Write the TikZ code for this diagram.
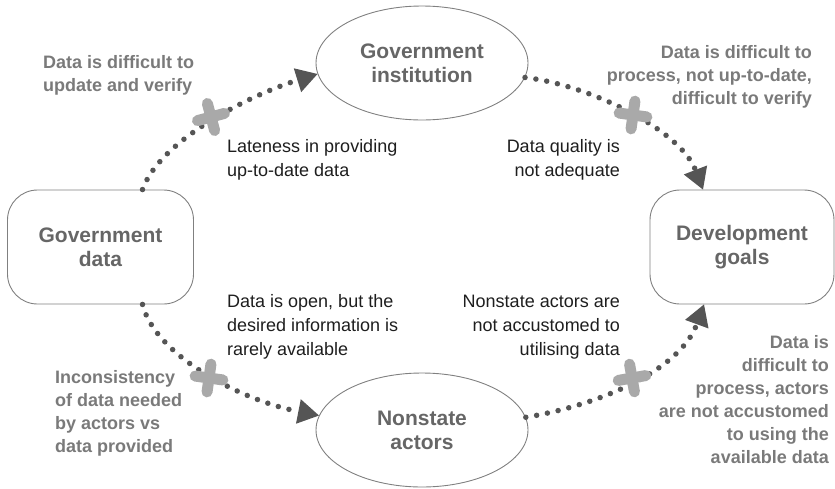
\documentclass[tikz,border=0pt]{standalone}
\usepackage{fontspec}
\setmainfont{Liberation Sans}
\usetikzlibrary{shapes.geometric,arrows.meta,calc}
\definecolor{titlegray}{HTML}{666666}
\definecolor{labelgray}{HTML}{7A7A7A}
\definecolor{dotgray}{HTML}{555555}
\definecolor{xgray}{HTML}{A9A9A9}
\definecolor{bordergray}{HTML}{808080}
\definecolor{textblack}{HTML}{1E1E1E}
\begin{document}
\begin{tikzpicture}[x=1pt,y=-1pt,
  ellnode/.style={draw=bordergray,line width=0.9pt,ellipse,minimum width=212pt,minimum height=114pt,inner sep=0pt,
    align=center,text=titlegray,font=\fontsize{21}{24}\selectfont\bfseries},
  boxnode/.style={draw=bordergray,line width=0.9pt,rounded corners=30pt,minimum width=186pt,minimum height=114pt,inner sep=0pt,
    align=center,text=titlegray,font=\fontsize{21}{24}\selectfont\bfseries},
  graylabel/.style={inner sep=0pt,text=labelgray,font=\fontsize{18}{23}\selectfont\bfseries},
  blacklabel/.style={inner sep=0pt,text=textblack,font=\fontsize{18}{24}\selectfont},
  flow/.style={draw=dotgray,line width=5.5pt,line cap=round,dash pattern=on 0pt off 11pt,
    -{Triangle[length=21pt,width=25pt,line width=0pt]},fill=none},
  cross/.style={draw=xgray,line width=11pt,line cap=round}
]
\useasboundingbox (0,0) rectangle (835,488);

% nodes
\node[ellnode] (gi) at (422,63) {Government\\institution};
\node[ellnode] (na) at (422,430) {Nonstate\\actors};
\node[boxnode] (gd) at (100.5,247) {Government\\data};
\node[boxnode,minimum width=184pt] (dg) at (742,247) {Development\\goals};

% connectors
\draw[flow] ($(gd.north)+(42,0)$) .. controls (160,140) and (250,95) .. (gi.186);
\draw[flow] (gi.-8) .. controls (590,85) and (680,130) .. ($(dg.north)+(-39,0)$);
\draw[flow] ($(gd.south)+(42,0)$) .. controls (155,355) and (240,400) .. (na.172);
\draw[flow] (na.7) .. controls (600,405) and (680,370) .. ($(dg.south)+(-38,0)$);

% crosses
\foreach \cx/\cy/\ang in {211/117/15, 633/115/-8, 209/378/-8, 632/378/10}{
  \begin{scope}[shift={(\cx,\cy)},rotate=\ang]
    \draw[cross] (-14,0) -- (14,0);
    \draw[cross] (0,-14) -- (0,14);
  \end{scope}
}

% labels
\node[graylabel,anchor=west,align=left] (l1) at (43,75) {Data is difficult to\\update and verify};
\node[graylabel,anchor=east,align=right] (l2) at (812,77) {Data is difficult to\\process, not up-to-date,\\difficult to verify};
\node[graylabel,anchor=west,align=left] (l3) at (55,413) {Inconsistency\\of data needed\\by actors vs\\data provided};
\node[graylabel,anchor=east,align=right] (l4) at (829,400) {Data is\\difficult to\\process, actors\\are not accustomed\\to using the\\available data};

\node[blacklabel,anchor=west,align=left] (b1) at (227,160) {Lateness in providing\\up-to-date data};
\node[blacklabel,anchor=east,align=right] (b2) at (620,160) {Data quality is\\not adequate};
\node[blacklabel,anchor=west,align=left] (b3) at (227,327) {Data is open, but the\\desired information is\\rarely available};
\node[blacklabel,anchor=east,align=right] (b4) at (620,327) {Nonstate actors are\\not accustomed to\\utilising data};
\end{tikzpicture}
\end{document}
